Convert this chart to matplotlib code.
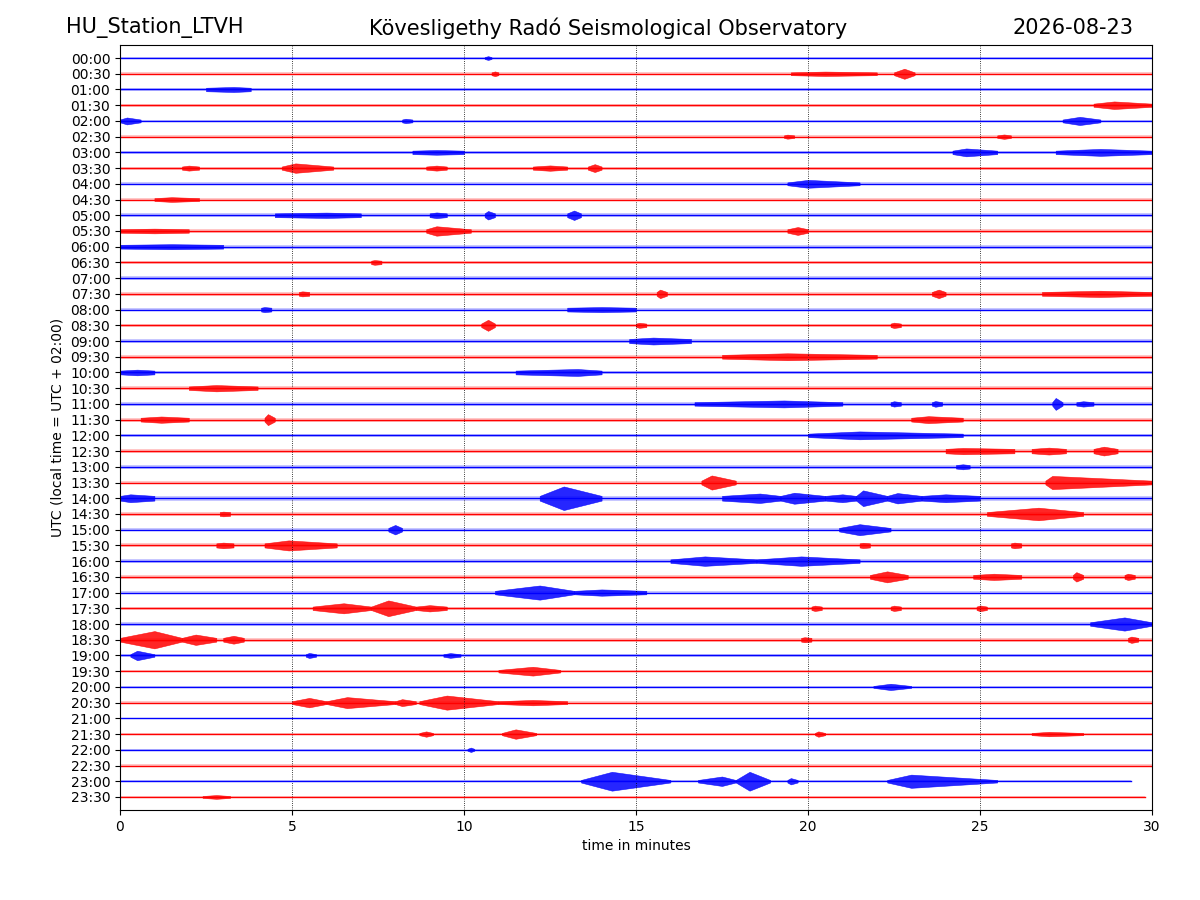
import matplotlib.pyplot as plt

station = 'HU_Station_LTVH'
observatory = 'Kövesligethy Radó Seismological Observatory'
day = '2026-08-23'

rows = ['00:00', '00:30', '01:00', '01:30', '02:00', '02:30', '03:00', '03:30',
        '04:00', '04:30', '05:00', '05:30', '06:00', '06:30', '07:00', '07:30',
        '08:00', '08:30', '09:00', '09:30', '10:00', '10:30', '11:00', '11:30',
        '12:00', '12:30', '13:00', '13:30', '14:00', '14:30', '15:00', '15:30',
        '16:00', '16:30', '17:00', '17:30', '18:00', '18:30', '19:00', '19:30',
        '20:00', '20:30', '21:00', '21:30', '22:00', '22:30', '23:00', '23:30']

# background noise half-width of each trace (in trace spacings)
noise = [0.06, 0.09, 0.11, 0.10, 0.09, 0.08, 0.11, 0.10,
         0.09, 0.09, 0.12, 0.11, 0.12, 0.11, 0.12, 0.12,
         0.12, 0.11, 0.13, 0.12, 0.12, 0.11, 0.11, 0.12,
         0.11, 0.14, 0.11, 0.12, 0.15, 0.12, 0.11, 0.13,
         0.11, 0.12, 0.11, 0.11, 0.11, 0.12, 0.08, 0.08,
         0.06, 0.09, 0.05, 0.07, 0.06, 0.07, 0.08, 0.06]

# end of data in each row (minutes)
row_end = [30] * 46 + [29.4, 29.8]

# wave packets: (start, peak, end, half amplitude)
bursts = {
    '00:00': [(10.6, 10.7, 10.8, 0.12)],
    '00:30': [(10.8, 10.9, 11.0, 0.15), (19.5, 20.5, 22.0, 0.14), (22.5, 22.8, 23.1, 0.32)],
    '01:00': [(2.5, 3.3, 3.8, 0.16)],
    '01:30': [(28.3, 28.9, 30.0, 0.24)],
    '02:00': [(0.0, 0.2, 0.6, 0.22), (8.2, 8.3, 8.5, 0.14), (27.4, 27.9, 28.5, 0.26)],
    '02:30': [(19.3, 19.4, 19.6, 0.13), (25.5, 25.7, 25.9, 0.14)],
    '03:00': [(8.5, 9.2, 10.0, 0.15), (24.2, 24.6, 25.5, 0.25), (27.2, 28.5, 30.0, 0.22)],
    '03:30': [(1.8, 2.0, 2.3, 0.16), (4.7, 5.1, 6.2, 0.3), (8.9, 9.2, 9.5, 0.16),
              (12.0, 12.5, 13.0, 0.17), (13.6, 13.8, 14.0, 0.25)],
    '04:00': [(19.4, 20.0, 21.5, 0.25)],
    '04:30': [(1.0, 1.5, 2.3, 0.15)],
    '05:00': [(4.5, 6.0, 7.0, 0.17), (9.0, 9.2, 9.5, 0.18), (10.6, 10.7, 10.9, 0.27),
              (13.0, 13.2, 13.4, 0.3)],
    '05:30': [(0.0, 1.0, 2.0, 0.15), (8.9, 9.2, 10.2, 0.3), (19.4, 19.7, 20.0, 0.25)],
    '06:00': [(0.0, 1.5, 3.0, 0.16)],
    '06:30': [(7.3, 7.4, 7.6, 0.15)],
    '07:30': [(5.2, 5.3, 5.5, 0.16), (15.6, 15.7, 15.9, 0.27), (23.6, 23.8, 24.0, 0.27),
              (26.8, 28.5, 30.0, 0.2)],
    '08:00': [(4.1, 4.2, 4.4, 0.16), (13.0, 14.0, 15.0, 0.16)],
    '08:30': [(10.5, 10.7, 10.9, 0.35), (15.0, 15.1, 15.3, 0.16), (22.4, 22.5, 22.7, 0.17)],
    '09:00': [(14.8, 15.5, 16.6, 0.22)],
    '09:30': [(17.5, 19.4, 22.0, 0.22)],
    '10:00': [(0.0, 0.5, 1.0, 0.18), (11.5, 13.3, 14.0, 0.22)],
    '10:30': [(2.0, 2.8, 4.0, 0.2)],
    '11:00': [(16.7, 19.3, 21.0, 0.22), (22.4, 22.5, 22.7, 0.17), (23.6, 23.7, 23.9, 0.18),
              (27.1, 27.2, 27.4, 0.38), (27.8, 28.0, 28.3, 0.17)],
    '11:30': [(0.6, 1.2, 2.0, 0.2), (4.2, 4.3, 4.5, 0.35), (23.0, 23.5, 24.5, 0.22)],
    '12:00': [(20.0, 21.5, 24.5, 0.25)],
    '12:30': [(24.0, 24.5, 26.0, 0.2), (26.5, 27.0, 27.5, 0.22), (28.3, 28.6, 29.0, 0.28)],
    '13:00': [(24.3, 24.5, 24.7, 0.16)],
    '13:30': [(16.9, 17.2, 17.9, 0.45), (26.9, 27.1, 30.0, 0.42)],
    '14:00': [(0.0, 0.3, 1.0, 0.25), (12.2, 12.9, 14.0, 0.75), (17.5, 18.6, 19.2, 0.3),
              (19.2, 19.6, 20.5, 0.35), (20.5, 21.0, 21.4, 0.25), (21.4, 21.6, 22.3, 0.5),
              (22.3, 22.6, 23.3, 0.33), (23.3, 24.0, 25.0, 0.25)],
    '14:30': [(2.9, 3.0, 3.2, 0.15), (25.2, 26.7, 28.0, 0.4)],
    '15:00': [(7.8, 8.0, 8.2, 0.3), (20.9, 21.5, 22.4, 0.35)],
    '15:30': [(2.8, 3.0, 3.3, 0.18), (4.2, 4.9, 6.3, 0.32), (21.5, 21.6, 21.8, 0.17),
              (25.9, 26.0, 26.2, 0.18)],
    '16:00': [(16.0, 17.0, 18.5, 0.3), (18.5, 19.8, 21.5, 0.3)],
    '16:30': [(21.8, 22.3, 22.9, 0.35), (24.8, 25.4, 26.2, 0.2), (27.7, 27.8, 28.0, 0.3),
              (29.2, 29.3, 29.5, 0.2)],
    '17:00': [(10.9, 12.2, 13.2, 0.45), (13.2, 14.0, 15.3, 0.2)],
    '17:30': [(5.6, 6.5, 7.3, 0.32), (7.3, 7.8, 8.6, 0.5), (8.6, 9.0, 9.5, 0.2),
              (20.1, 20.2, 20.4, 0.17), (22.4, 22.5, 22.7, 0.17), (24.9, 25.0, 25.2, 0.18)],
    '18:00': [(28.2, 29.2, 30.0, 0.42)],
    '18:30': [(0.0, 1.0, 1.8, 0.55), (1.8, 2.2, 2.8, 0.33), (3.0, 3.3, 3.6, 0.25),
              (19.8, 19.9, 20.1, 0.16), (29.3, 29.4, 29.6, 0.2)],
    '19:00': [(0.3, 0.5, 1.0, 0.3), (5.4, 5.5, 5.7, 0.16), (9.4, 9.6, 9.9, 0.15)],
    '19:30': [(11.0, 12.0, 12.8, 0.28)],
    '20:00': [(21.9, 22.4, 23.0, 0.2)],
    '20:30': [(5.0, 5.5, 6.0, 0.3), (6.0, 6.6, 8.0, 0.35), (8.0, 8.2, 8.6, 0.22),
              (8.7, 9.5, 11.0, 0.45), (11.0, 12.0, 13.0, 0.17)],
    '21:30': [(8.7, 8.9, 9.1, 0.17), (11.1, 11.5, 12.1, 0.3), (20.2, 20.3, 20.5, 0.17),
              (26.5, 27.0, 28.0, 0.14)],
    '22:00': [(10.1, 10.2, 10.3, 0.14)],
    '23:00': [(13.4, 14.3, 16.0, 0.6), (16.8, 17.5, 17.9, 0.3), (17.9, 18.3, 18.9, 0.6),
              (19.4, 19.5, 19.7, 0.2), (22.3, 23.0, 25.5, 0.42)],
    '23:30': [(2.4, 2.8, 3.2, 0.12)],
}

colors = ['#0000ff', '#ff0000']

fig = plt.figure(figsize=(12, 9), dpi=100)
ax = fig.add_axes([0.1, 0.1, 0.86, 0.85])

for i, row in enumerate(rows):
    c = colors[i % 2]
    end = row_end[i]
    # noise band and centre line
    ax.fill_between([0, end], [i - noise[i]] * 2, [i + noise[i]] * 2,
                    color=c, alpha=0.22, lw=0)
    ax.plot([0, end], [i, i], color=c, lw=1.0)
    for t0, tp, t1, a in bursts.get(row, []):
        xs = [t0, tp, t1]
        env = [noise[i], a, noise[i]]
        ax.fill_between(xs, [i - e for e in env], [i + e for e in env],
                        color=c, alpha=0.85, lw=0.4, edgecolor=c)

ax.set_xlim(0, 30)
ax.set_ylim(len(rows) - 1 + 0.83, -0.83)
ax.set_yticks(range(len(rows)))
ax.set_yticklabels(rows)
ax.set_xticks([0, 5, 10, 15, 20, 25, 30])
ax.grid(axis='x', color='k', linestyle=':', linewidth=0.6)
ax.set_xlabel('time in minutes')
ax.set_ylabel('UTC (local time = UTC + 02:00)')

fig.text(0.055, 0.969, station, fontsize=15, ha='left', va='center')
fig.text(0.507, 0.969, observatory, fontsize=15, ha='center', va='center')
fig.text(0.945, 0.969, day, fontsize=15, ha='right', va='center')

fig.savefig('out.png', dpi=100)
